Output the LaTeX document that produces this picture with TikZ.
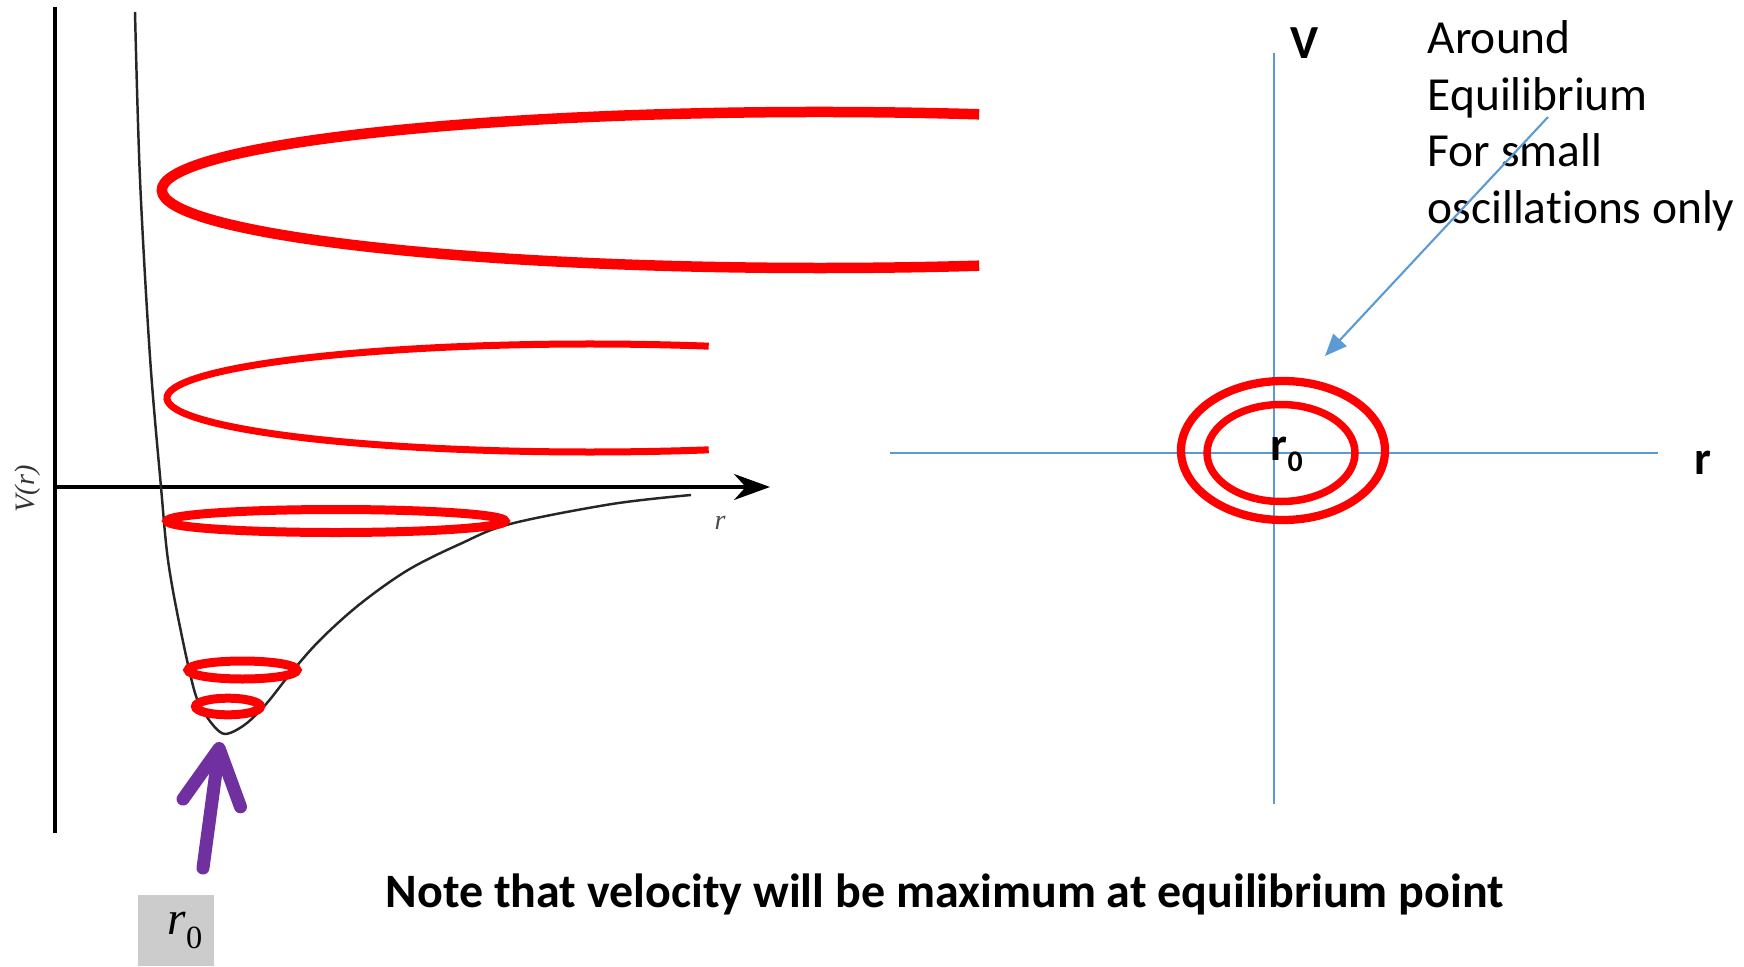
\documentclass[tikz,border=0pt]{standalone}
\usepackage{fontspec}
\setmainfont{Carlito}[Ligatures=CommonOff]
\newfontfamily\timesf{Liberation Serif}
\usetikzlibrary{arrows.meta}
\definecolor{orbitred}{HTML}{FF0000}
\definecolor{arrowpurple}{HTML}{7030A0}
\definecolor{axisblue}{HTML}{5B9BD5}
\begin{document}
\begin{tikzpicture}[every node/.style={font=\fontsize{13.5}{16.1}\selectfont},
  orbit/.style={orbitred, line width=#1}, orbit/.default=0.09cm,
  small/.style={font=\timesf\itshape\fontsize{8}{8}\selectfont}]
\useasboundingbox (0,0) rectangle (17.44,9.66);
% Potential well V(r)
\coordinate (vtop) at (0.55,9.59); \coordinate (vbot) at (0.55,1.33);
\coordinate (origin) at (0.55,4.79); \coordinate (rend) at (7.70,4.79);
\draw[line width=0.9pt] (vbot) -- (vtop);
\draw[line width=0.9pt, -{Stealth[length=3.6mm,width=2.6mm]}] (origin) -- (rend);
\node[small, rotate=90, black!80] (vlab) at (0.275,4.77) {V(r)};
\node[small, black!70] (rlab) at (7.20,4.43) {r};
\draw[black!85, line width=0.7pt] plot[smooth, tension=0.55] coordinates {(1.35,9.54) (1.40,7.87) (1.50,6.09) (1.61,4.79) (1.68,4.06) (1.80,3.39) (1.95,2.73) (2.07,2.49) (2.20,2.34) (2.30,2.33) (2.47,2.43) (2.67,2.63) (2.90,2.92) (3.20,3.26) (3.60,3.62) (4.08,3.96) (4.60,4.22) (5.10,4.42) (6.12,4.62) (6.91,4.71)};
% Orbits: open (unbound) and closed (bound)
\coordinate (c1) at (8.20,7.76); \coordinate (c2) at (5.90,5.68);
\draw[orbit=0.105cm] ([shift={(76:6.58 and 0.78)}]c1) arc[start angle=76, end angle=284, x radius=6.58, y radius=0.78];
\draw[orbit=0.07cm] ([shift={(73.7:4.23 and 0.54)}]c2) arc[start angle=73.7, end angle=286.3, x radius=4.23, y radius=0.54];
\foreach \x/\y/\a/\b in {3.36/4.45/1.69/0.115, 2.425/2.96/0.545/0.09, 2.28/2.595/0.325/0.083}
  \draw[orbit] (\x,\y) ellipse[x radius=\a, y radius=\b];
% Equilibrium point
\node[fill=black!20, minimum width=0.76cm, minimum height=0.71cm, inner sep=0pt] (r0box) at (1.76,0.355) {\hspace*{1.8mm}{\timesf\itshape r}\raisebox{-4pt}{\timesf\fontsize{9.2}{9.2}\selectfont 0}};
\coordinate (rmin) at (2.20,2.24); \coordinate (atail) at (2.03,0.98);
\draw[arrowpurple, line width=0.13cm, line cap=round, -{Straight Barb[length=5.5mm, width=5.8mm, round]}] (atail) -- (rmin);
\node[font=\bfseries\fontsize{13.65}{16}\selectfont, anchor=base west, inner sep=0pt] (note) at (3.85,0.59) {Note that velocity will be maximum at equilibrium point};
% Phase plane
\coordinate (ptop) at (12.74,9.13); \coordinate (pbot) at (12.74,1.62);
\coordinate (pleft) at (8.90,5.13); \coordinate (pright) at (16.58,5.13);
\draw[axisblue, line width=0.6pt] (pbot) -- (ptop);
\draw[axisblue, line width=0.6pt] (pleft) -- (pright);
\node[font=\bfseries\fontsize{13.5}{16}\selectfont] (vaxis) at (13.05,9.23) {V};
\node[font=\bfseries\fontsize{13.5}{16}\selectfont] (raxis) at (17.03,5.03) {r};
\draw[orbit=0.083cm] (12.83,5.155) ellipse[x radius=1.02, y radius=0.695];
\draw[orbit=0.075cm] (12.81,5.13) ellipse[x radius=0.74, y radius=0.485];
\node[font=\bfseries\fontsize{13.5}{16}\selectfont, anchor=base west, inner sep=0pt] (req) at (12.70,5.06) {r\raisebox{-3.4pt}{\fontsize{8.5}{8.5}\selectfont 0}};
\node[anchor=north west, inner sep=0pt, align=left] (hint) at (14.27,9.46) {Around\\Equilibrium\\For small\\oscillations only};
\coordinate (htail) at (15.48,8.49); \coordinate (eq) at (13.25,6.10);
\draw[axisblue, line width=0.6pt, -{Triangle[length=2.2mm,width=1.8mm]}] (htail) -- (eq);
\end{tikzpicture}
\end{document}
